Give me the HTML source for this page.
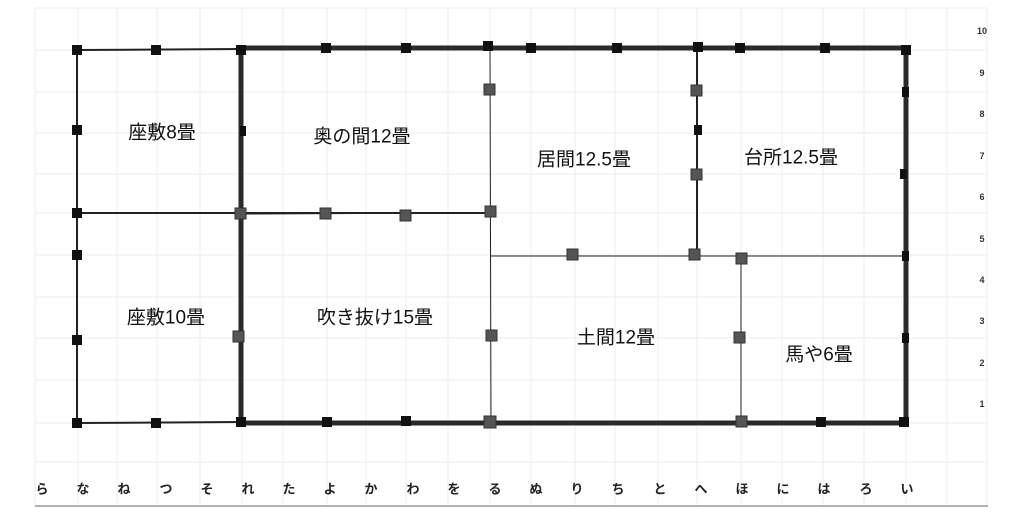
<!DOCTYPE html>
<html><head><meta charset="utf-8"><style>
html,body{margin:0;padding:0;background:#fff;}
svg{display:block;}
text{font-family:"Liberation Sans","Noto Sans CJK JP",sans-serif;}
</style></head><body>
<svg width="1024" height="521" viewBox="0 0 1024 521" xmlns="http://www.w3.org/2000/svg">
<g stroke="#ececec" stroke-width="1">
<line x1="35" y1="8" x2="35" y2="506"/><line x1="78" y1="8" x2="78" y2="506"/><line x1="117" y1="8" x2="117" y2="506"/><line x1="157" y1="8" x2="157" y2="506"/><line x1="200" y1="8" x2="200" y2="506"/><line x1="242" y1="8" x2="242" y2="506"/><line x1="283" y1="8" x2="283" y2="506"/><line x1="327" y1="8" x2="327" y2="506"/><line x1="366" y1="8" x2="366" y2="506"/><line x1="406" y1="8" x2="406" y2="506"/><line x1="448" y1="8" x2="448" y2="506"/><line x1="490" y1="8" x2="490" y2="506"/><line x1="531" y1="8" x2="531" y2="506"/><line x1="575" y1="8" x2="575" y2="506"/><line x1="615" y1="8" x2="615" y2="506"/><line x1="658" y1="8" x2="658" y2="506"/><line x1="697" y1="8" x2="697" y2="506"/><line x1="741" y1="8" x2="741" y2="506"/><line x1="782" y1="8" x2="782" y2="506"/><line x1="823" y1="8" x2="823" y2="506"/><line x1="864" y1="8" x2="864" y2="506"/><line x1="906" y1="8" x2="906" y2="506"/><line x1="947" y1="8" x2="947" y2="506"/><line x1="987" y1="8" x2="987" y2="506"/>
<line x1="35" y1="8" x2="987" y2="8"/><line x1="35" y1="50" x2="987" y2="50"/><line x1="35" y1="92" x2="987" y2="92"/><line x1="35" y1="133" x2="987" y2="133"/><line x1="35" y1="174" x2="987" y2="174"/><line x1="35" y1="213" x2="987" y2="213"/><line x1="35" y1="255" x2="987" y2="255"/><line x1="35" y1="297" x2="987" y2="297"/><line x1="35" y1="338" x2="987" y2="338"/><line x1="35" y1="380" x2="987" y2="380"/><line x1="35" y1="423" x2="987" y2="423"/><line x1="35" y1="462" x2="987" y2="462"/>
</g>
<line x1="35" y1="506" x2="988" y2="506" stroke="#999" stroke-width="1.5"/>
<g stroke="#222" fill="none">
<polyline points="241,49 77,50 77,423 241,422" stroke-width="2"/>
<line x1="77" y1="213" x2="490" y2="213" stroke-width="2"/>
<line x1="241" y1="214" x2="490" y2="213" stroke-width="1"/>
<line x1="490" y1="48" x2="491" y2="423" stroke-width="1"/>
<line x1="490" y1="256" x2="906" y2="256" stroke-width="1"/>
<line x1="697" y1="48" x2="697" y2="256" stroke-width="2"/>
<line x1="741" y1="256" x2="741" y2="423" stroke-width="1"/>
</g>
<rect x="241" y="48" width="665" height="375" fill="none" stroke="#2a2a2a" stroke-width="5"/>
<g fill="#111">
<rect x="72" y="45" width="10" height="10"/><rect x="151" y="45" width="10" height="10"/><rect x="236" y="45" width="10" height="10"/><rect x="321" y="43" width="10" height="10"/><rect x="401" y="43" width="10" height="10"/><rect x="483" y="41" width="10" height="10"/><rect x="526" y="43" width="10" height="10"/><rect x="612" y="43" width="10" height="10"/><rect x="693" y="42" width="10" height="10"/><rect x="735" y="43" width="10" height="10"/><rect x="820" y="43" width="10" height="10"/><rect x="901" y="45" width="10" height="10"/>
<rect x="72" y="125" width="10" height="10"/><rect x="240" y="126" width="6" height="10"/><rect x="72" y="208" width="10" height="10"/><rect x="72" y="250" width="10" height="10"/><rect x="72" y="335" width="10" height="10"/><rect x="72" y="418" width="10" height="10"/><rect x="151" y="418" width="10" height="10"/><rect x="236" y="417" width="10" height="10"/><rect x="322" y="417" width="10" height="10"/><rect x="401" y="416" width="10" height="10"/><rect x="816" y="417" width="10" height="10"/><rect x="899" y="417" width="10" height="10"/>
<rect x="902" y="87" width="7" height="10"/><rect x="900" y="169" width="7" height="10"/><rect x="694" y="125" width="8" height="10"/><rect x="902" y="251" width="7" height="10"/><rect x="902" y="333" width="7" height="10"/>
</g>
<g fill="#555" stroke="#333" stroke-width="1">
<rect x="484" y="84" width="11" height="11"/><rect x="235" y="208" width="11" height="11"/><rect x="320" y="208" width="11" height="11"/><rect x="400" y="210" width="11" height="11"/><rect x="485" y="206" width="11" height="11"/><rect x="691" y="85" width="11" height="11"/><rect x="691" y="169" width="11" height="11"/><rect x="567" y="249" width="11" height="11"/><rect x="689" y="249" width="11" height="11"/><rect x="736" y="253" width="11" height="11"/><rect x="233" y="331" width="11" height="11"/><rect x="486" y="330" width="11" height="11"/><rect x="734" y="332" width="11" height="11"/><rect x="484" y="416" width="12" height="12"/><rect x="736" y="416" width="11" height="11"/>
</g>
<g font-size="19" fill="#111" text-anchor="middle" dominant-baseline="central">
<text x="162" y="133">座敷8畳</text>
<text x="362" y="137">奥の間12畳</text>
<text x="584" y="160">居間12.5畳</text>
<text x="791" y="158">台所12.5畳</text>
<text x="166" y="318">座敷10畳</text>
<text x="375" y="318">吹き抜け15畳</text>
<text x="616" y="338">土間12畳</text>
<text x="819" y="355">馬や6畳</text>
</g>
<g font-size="13" font-weight="bold" fill="#222" text-anchor="middle" dominant-baseline="central">
<text x="42" y="489">ら</text><text x="83" y="489">な</text><text x="124" y="489">ね</text><text x="166" y="489">つ</text><text x="207" y="489">そ</text><text x="248" y="489">れ</text><text x="289" y="489">た</text><text x="330" y="489">よ</text><text x="371" y="489">か</text><text x="413" y="489">わ</text><text x="454" y="489">を</text><text x="495" y="489">る</text><text x="536" y="489">ぬ</text><text x="577" y="489">り</text><text x="618" y="489">ち</text><text x="660" y="489">と</text><text x="701" y="489">へ</text><text x="742" y="489">ほ</text><text x="783" y="489">に</text><text x="824" y="489">は</text><text x="866" y="489">ろ</text><text x="907" y="489">い</text>
</g>
<g font-size="9" font-weight="bold" fill="#333" text-anchor="middle" dominant-baseline="central">
<text x="982" y="31">10</text><text x="982" y="73">9</text><text x="982" y="114">8</text><text x="982" y="156">7</text><text x="982" y="197">6</text><text x="982" y="239">5</text><text x="982" y="280">4</text><text x="982" y="321">3</text><text x="982" y="363">2</text><text x="982" y="404">1</text>
</g>
</svg>
</body></html>
